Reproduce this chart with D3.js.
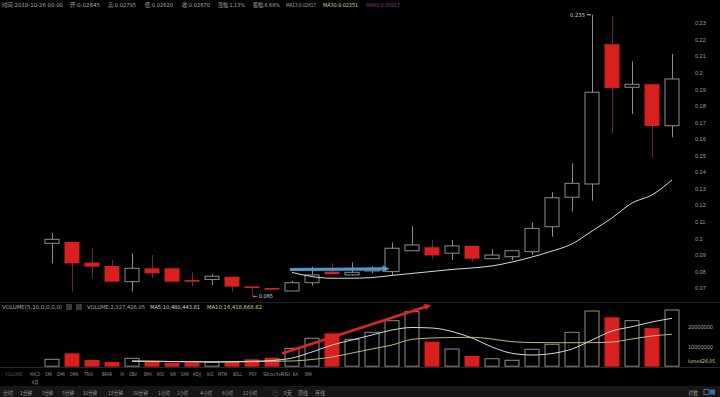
<!DOCTYPE html>
<html>
<head>
<meta charset="utf-8">
<script src="https://cdn.jsdelivr.net/npm/d3@7"></script>
<style>
  html, body { margin: 0; padding: 0; background: #000; }
  svg { display: block; font-family: "DejaVu Sans", "Noto Sans CJK SC", sans-serif; }
</style>
</head>
<body>
<script>
// données
var opens  = [0.0970, 0.0978, 0.0853, 0.0833, 0.0738, 0.0819, 0.0819, 0.0748, 0.0752, 0.0768, 0.0710, 0.0700, 0.0682, 0.0732, 0.0799, 0.0779,
              0.0805, 0.0799, 0.0925, 0.0946, 0.0910, 0.0954, 0.0877, 0.0889, 0.0919, 0.1070, 0.1248, 0.1328, 0.2172, 0.1912, 0.1930, 0.1680];
var highs  = [0.1034, 0.0978, 0.0940, 0.0869, 0.0910, 0.0899, 0.0819, 0.0795, 0.0783, 0.0768, 0.0712, 0.0700, 0.0742, 0.0829, 0.0849, 0.0855,
              0.0830, 0.0974, 0.1074, 0.0990, 0.0990, 0.0954, 0.0934, 0.0925, 0.1094, 0.1278, 0.1453, 0.2350, 0.2344, 0.2068, 0.1930, 0.2113];
var lows   = [0.0849, 0.0678, 0.0759, 0.0738, 0.0678, 0.0759, 0.0738, 0.0708, 0.0718, 0.0678, 0.0650, 0.0690, 0.0682, 0.0714, 0.0783, 0.0775,
              0.0790, 0.0779, 0.0925, 0.0873, 0.0869, 0.0859, 0.0877, 0.0869, 0.0899, 0.1010, 0.1161, 0.1227, 0.1634, 0.1751, 0.1491, 0.1610];
var closes = [0.0994, 0.0849, 0.0829, 0.0738, 0.0819, 0.0789, 0.0738, 0.0738, 0.0771, 0.0708, 0.0700, 0.0690, 0.0732, 0.0779, 0.0783, 0.0795,
              0.0812, 0.0940, 0.0960, 0.0897, 0.0954, 0.0877, 0.0899, 0.0925, 0.1060, 0.1245, 0.1332, 0.1882, 0.1908, 0.1930, 0.1678, 0.1962];
// moyenne mobile du prix (commence à la bougie 12)
var priceMA = [null, null, null, null, null, null, null, null, null, null, null, null, 0.0794, 0.0769, 0.0759, 0.0759,
               0.0763, 0.0776, 0.0788, 0.0800, 0.0812, 0.0821, 0.0833, 0.0857, 0.0887, 0.0923, 0.0966, 0.1044, 0.1123, 0.1213, 0.1262, 0.1352];
// volumes (en millions)
var volumes = [3.7, 6.7, 3.35, 2.35, 4.2, 2.5, 1.85, 2.2, 2.2, 2.5, 3.7, 4.5, 9.2, 14.2, 16.7, 13.7,
               17.2, 23, 27.5, 12.5, 8.85, 5.35, 4, 3.2, 8.7, 11.2, 17.2, 27.85, 24.7, 23, 19.3, 28.35];
var volMA5  = [null, null, null, null, 2.9, 2.8, 2.6, 2.5, 2.4, 2.5, 2.7, 3.1, 4.35, 7.35, 10.85, 13.35,
               15.85, 18.35, 19.6, 19.35, 17.6, 14.35, 9.85, 6.7, 5.85, 6.6, 8.85, 13.35, 17.85, 20, 22.35, 24.2];
var volMA10 = [null, null, null, null, 2.6, 2.6, 2.5, 2.5, 2.4, 2.4, 2.5, 2.7, 2.85, 3.6, 4.85, 6.85,
               8.85, 10.85, 13.7, 14.35, 14.6, 14.7, 13.85, 12.5, 12.1, 12, 12, 12, 12.35, 13.85, 15.35, 16.2];
var priceTicks = [0.07, 0.08, 0.09, 0.1, 0.11, 0.12, 0.13, 0.14, 0.15, 0.16, 0.17, 0.18, 0.19, 0.2, 0.21, 0.22, 0.23];
var volTicks = [10000000, 20000000];

var W = 720, H = 397;
var red = "#d8201e", hollow = "#8e8e8e", redWick = "#6a2a3a";

var svgC = d3.select("body").append("svg").attr("width", W).attr("height", H);
svgC.append("rect").attr("width", W).attr("height", H).style("fill", "#000");

// petit texte avec largeur imposée
function label(txt, x0, x1, yy, col, size) {
  return svgC.append("text").attr("x", x0).attr("y", yy).text(txt)
    .attr("textLength", x1 - x0).attr("lengthAdjust", "spacingAndGlyphs")
    .style("font-size", (size || 5.5) + "px").style("fill", col || "#a0a0a0");
}

var n = opens.length;
var x = d3.scaleBand().domain(d3.range(n)).range([42, 682]).paddingInner(0.25).paddingOuter(0.125);
var cx = function(i) { return x(i) + x.bandwidth() / 2; };
var y = d3.scaleLinear().domain([0.07, 0.23]).range([288, 23]);
var yv = d3.scaleLinear().domain([0, 20]).range([366.7, 326.7]);

// en-tête
var header = [
  ["时间:2018-10-26 00:00", 2, 63, "#a8a8a8"], ["开:0.02645", 70, 100, "#a8a8a8"], ["高:0.02795", 108, 136, "#a8a8a8"],
  ["低:0.02620", 145, 173, "#a8a8a8"], ["收:0.02670", 182, 210, "#a8a8a8"], ["涨幅:1.13%", 218, 245, "#a8a8a8"],
  ["振幅:6.68%", 253, 280, "#a8a8a8"], ["MA13:0.02617", 286, 316, "#a8a8a8"], ["MA30:0.02351", 323, 358, "#d6d68a"],
  ["MA60:0.00917", 366, 400, "#8a3a80"]
];
header.forEach(function(h) { label(h[0], h[1], h[2], 7, h[3]); });

// axe des prix
var axP = svgC.append("g").attr("transform", "translate(692,0)")
  .call(d3.axisRight(y).tickValues(priceTicks).tickSize(0).tickFormat(d3.format(".2~f")));
axP.select(".domain").remove();
axP.selectAll("text").style("fill", "#a0a0a0").style("font-size", "5.5px").attr("x", 3);

// bougies
var candles = svgC.append("g");
d3.range(n).forEach(function(i) {
  var up = closes[i] >= opens[i];
  candles.append("line")
    .attr("x1", Math.round(cx(i)) + 0.5).attr("x2", Math.round(cx(i)) + 0.5)
    .attr("y1", y(highs[i])).attr("y2", y(lows[i]))
    .attr("stroke", up ? hollow : redWick).attr("stroke-width", 1);
  var top = y(Math.max(opens[i], closes[i])), bot = y(Math.min(opens[i], closes[i]));
  var hgt = Math.max(bot - top, 1.5);
  if (up) {
    candles.append("rect").attr("x", x(i) + 0.5).attr("y", top).attr("width", x.bandwidth() - 1).attr("height", hgt)
      .style("fill", "#000").attr("stroke", hollow).attr("stroke-width", 1);
  } else {
    candles.append("rect").attr("x", x(i)).attr("y", top).attr("width", x.bandwidth()).attr("height", hgt)
      .style("fill", red);
  }
});

// moyenne mobile
var maLine = d3.line().defined(function(d) { return d != null; })
  .x(function(d, i) { return cx(i); }).y(function(d) { return y(d); }).curve(d3.curveMonotoneX);
svgC.append("path").datum(priceMA).attr("d", maLine)
  .style("fill", "none").attr("stroke", "#d8d8d8").attr("stroke-width", 1);

// max / min
var iMax = d3.maxIndex(highs), iMin = d3.minIndex(lows);
svgC.append("line").attr("x1", cx(iMax) - 5).attr("x2", cx(iMax) - 1).attr("y1", y(highs[iMax])).attr("y2", y(highs[iMax]))
  .attr("stroke", "#cccccc");
label(d3.format(".3f")(highs[iMax]), cx(iMax) - 22, cx(iMax) - 7, y(highs[iMax]) + 2, "#cfcfcf");
label("← " + d3.format(".3f")(lows[iMin]), cx(iMin) + 1, cx(iMin) + 21, y(lows[iMin]) + 2, "#cfcfcf");

// flèches
var defs = svgC.append("defs");
defs.append("marker").attr("id", "bh").attr("viewBox", "0 0 10 10").attr("refX", 5).attr("refY", 5)
  .attr("markerWidth", 2.2).attr("markerHeight", 2.2).attr("orient", "auto")
  .append("path").attr("d", "M0,0 L10,5 L0,10 z").style("fill", "#4a9ad8");
defs.append("marker").attr("id", "rh").attr("viewBox", "0 0 10 10").attr("refX", 5).attr("refY", 5)
  .attr("markerWidth", 2.5).attr("markerHeight", 2.5).attr("orient", "auto")
  .append("path").attr("d", "M0,0 L10,5 L0,10 z").style("fill", "#e02424");
svgC.append("line").attr("x1", 290).attr("y1", 269.5).attr("x2", 386).attr("y2", 268.8)
  .attr("stroke", "#4a9ad8").attr("stroke-width", 3.2).attr("marker-end", "url(#bh)");

// séparateur
svgC.append("line").attr("x1", 0).attr("x2", W).attr("y1", 302.5).attr("y2", 302.5).attr("stroke", "#1e1e1e");

// en-tête volume
label("VOLUME(5,10,0,0,0,0)", 2, 62, 309, "#a8a8a8");
svgC.append("rect").attr("x", 66).attr("y", 304).attr("width", 6).attr("height", 6).style("fill", "#3a3a3a");
svgC.append("rect").attr("x", 76).attr("y", 304).attr("width", 6).attr("height", 6).style("fill", "#3a3a3a");
label("VOLUME:2,327,426.05", 87, 145, 309, "#a8a8a8");
label("MA5:10,480,443.81", 150, 200, 309, "#d0d0d0");
label("MA10:16,418,668.82", 207, 262, 309, "#cfd08a");

// axe volume
var axV = svgC.append("g").attr("transform", "translate(686,0)")
  .call(d3.axisRight(yv.copy().domain([0, 20000000])).tickValues(volTicks).tickSize(0).tickFormat(d3.format("d")));
axV.select(".domain").remove();
axV.selectAll("text").style("fill", "#a0a0a0").style("font-size", "5px").attr("x", 2)
  .attr("textLength", 25).attr("lengthAdjust", "spacingAndGlyphs");
label("lume426.05", 688, 715, 363, "#d8d870", 5);

// barres de volume
var vol = svgC.append("g");
d3.range(n).forEach(function(i) {
  var up = closes[i] >= opens[i];
  var t = yv(volumes[i]), b = yv(0);
  if (up) {
    vol.append("rect").attr("x", x(i) + 0.5).attr("y", t).attr("width", x.bandwidth() - 1).attr("height", b - t - 0.5)
      .style("fill", "#000").attr("stroke", hollow).attr("stroke-width", 1);
  } else {
    vol.append("rect").attr("x", x(i)).attr("y", t).attr("width", x.bandwidth()).attr("height", b - t)
      .style("fill", red);
  }
});

var vLine = d3.line().defined(function(d) { return d != null; })
  .x(function(d, i) { return cx(i); }).y(function(d) { return yv(d); }).curve(d3.curveMonotoneX);
svgC.append("path").datum(volMA10).attr("d", vLine).style("fill", "none").attr("stroke", "#b8bb78").attr("stroke-width", 1);
svgC.append("path").datum(volMA5).attr("d", vLine).style("fill", "none").attr("stroke", "#d8d8d8").attr("stroke-width", 1);

// flèche rouge
svgC.append("line").attr("x1", 282).attr("y1", 353.5).attr("x2", 428).attr("y2", 306)
  .attr("stroke", "#e02424").attr("stroke-width", 2.6).attr("marker-end", "url(#rh)");

// bas du panneau
svgC.append("line").attr("x1", 0).attr("x2", W).attr("y1", 367.5).attr("y2", 367.5).attr("stroke", "#2a2a2a");

// onglets d'indicateurs
var tabs = [["VOLUME", 5, 22], ["MACD", 30, 40], ["SMI", 45, 52], ["DMI", 57, 65], ["DMA", 70, 78], ["TRIX", 84, 93],
  ["BRAR", 102, 112], ["VR", 120, 124], ["OBV", 129, 137], ["EMV", 144, 152], ["RSI", 157, 164], ["WR", 170, 176],
  ["SAR", 181, 189], ["KDJ", 193, 201], ["ROC", 207, 214], ["MTM", 218, 227], ["BOLL", 233, 242], ["PSY", 249, 257],
  ["StochRSI", 263, 290], ["KA", 293, 298], ["EMA", 305, 312]];
tabs.forEach(function(t, i) { label(t[0], t[1], t[2], 375.5, i === 0 ? "#555" : "#959595", 5); });
label("4月", x(0) - 13, x(0) - 6, 384, "#959595", 5);

// barre des périodes
svgC.append("rect").attr("x", 0).attr("y", 386).attr("width", W).attr("height", 11).style("fill", "#161616");
var periods = [["分时", 3, 13], ["1分钟", 20, 32], ["3分钟", 42, 53], ["5分钟", 62, 74], ["10分钟", 83, 97], ["15分钟", 108, 123],
  ["30分钟", 133, 148], ["1小时", 158, 170], ["2小时", 177, 188], ["4小时", 200, 212], ["6小时", 222, 233], ["12小时", 243, 257],
  ["1日", 271, 278], ["3天", 283, 292], ["周线", 298, 308], ["月线", 315, 325]];
periods.forEach(function(p) { label(p[0], p[1], p[2], 394.5, p[0] === "1日" ? "#444" : "#959595", 5.5); });
label("对数", 688, 698, 394.5, "#959595", 5.5);
svgC.append("rect").attr("x", 704).attr("y", 389.5).attr("width", 5).attr("height", 5).style("fill", "none").attr("stroke", "#3a6ea8");
svgC.append("rect").attr("x", 710).attr("y", 389.5).attr("width", 5).attr("height", 5).style("fill", "#3a6ea8");
</script>
</body>
</html>
